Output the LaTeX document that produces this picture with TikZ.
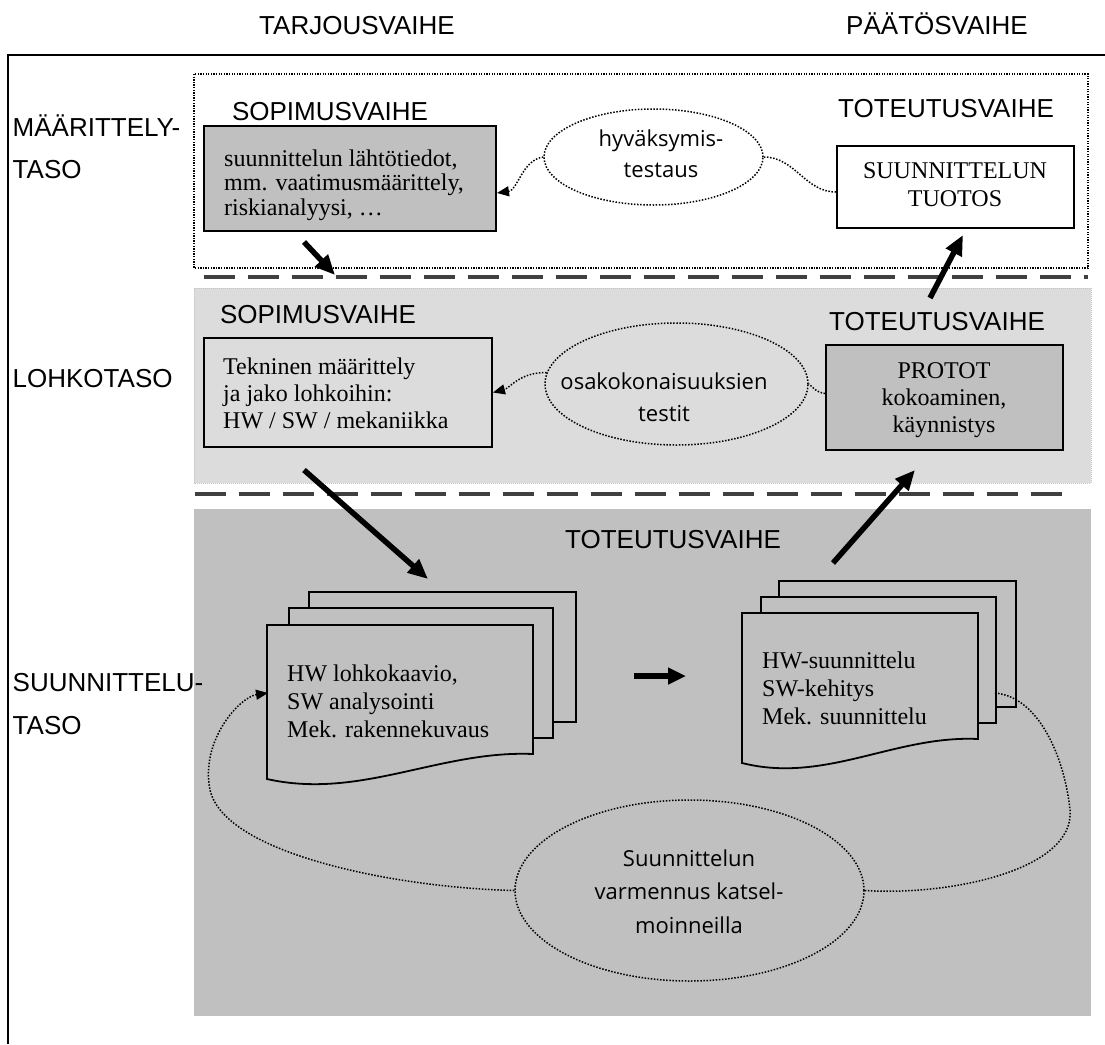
\documentclass[tikz,border=0pt]{standalone}
\usepackage{fontspec}
\setmainfont{Liberation Serif}
\newfontfamily\labelfont{Liberation Sans}
\newfontfamily\notefont{Open Sans}
\usetikzlibrary{arrows.meta,shapes.geometric,calc}
\definecolor{panelLight}{HTML}{DCDCDC}
\definecolor{panelDark}{HTML}{C0C0C0}
\definecolor{dashGray}{HTML}{404040}
\definecolor{edgeFaint}{HTML}{C4C4C4}

\begin{document}
\begin{tikzpicture}[x=1pt,y=-1pt,
  caption/.style={font=\labelfont\fontsize{26}{30}\selectfont, inner sep=0pt},
  serif/.style={font=\fontsize{24}{#1}\selectfont, inner sep=0pt},
  note/.style={font=\notefont\fontsize{22}{#1}\selectfont, inner sep=0pt, align=center, anchor=north},
  panelbox/.style={draw=black, line width=2pt, inner sep=0pt},
  bubble/.style={ellipse, draw=black, line width=1.5pt, dash pattern=on 1.5pt off 1.6pt, inner sep=0pt},
  dotlink/.style={line width=1.5pt, dash pattern=on 1.5pt off 1.6pt},
  dotarrow/.style={dotlink, -{Triangle[length=12pt,width=10pt]}},
  bigarrow/.style={line width=5.5pt, -{Triangle[length=20pt,width=17pt]}},
  sepline/.style={line width=4pt, draw=dashGray, dash pattern=on 31pt off 13pt},
  sheet/.style={draw=black, line width=1.8pt, fill=panelDark, line join=miter},
]
\useasboundingbox (0,0) rectangle (1105,1044);

% ---------- outer frame (top and left rules) ----------
\draw[line width=2pt] (8,1044) -- (8,55) -- (1105,55);

% ---------- level panels ----------
\draw[line width=1.3pt, dash pattern=on 1.3pt off 1.3pt] (194,74) rectangle (1088,268);
\draw[fill=panelLight, draw=edgeFaint, line width=0.8pt, dash pattern=on 1pt off 1pt] (194,288) rectangle (1091,483);
\fill[panelDark] (194,509) rectangle (1091,1016);

% separators between the levels
\draw[sepline] (204,277) -- (1088,277);
\draw[sepline] (195,494) -- (1063,494);

% ---------- column headings ----------
\node[caption, anchor=base] (hTarjous) at (357,34) {TARJOUSVAIHE};
\node[caption, anchor=base] (hPaatos) at (937,34) {PÄÄTÖSVAIHE};

% ---------- level names ----------
\node[caption, anchor=base west] (lvMaar) at (12.5,136) {MÄÄRITTELY-};
\node[caption, anchor=base west] (lvMaar2) at (12.5,178.5) {TASO};
\node[caption, anchor=base west] (lvLohko) at (12.5,387) {LOHKOTASO};
\node[caption, anchor=base west] (lvSuun) at (12.5,691) {SUUNNITTELU-};
\node[caption, anchor=base west] (lvSuun2) at (12.5,734) {TASO};

% ---------- definition level ----------
\node[caption, anchor=base] (pSop1) at (330,120) {SOPIMUSVAIHE};
\node[caption, anchor=base] (pTot1) at (946,117) {TOTEUTUSVAIHE};

\node[panelbox, fill=panelDark, minimum width=292pt, minimum height=105pt] (b1) at (350,178.5) {};
\node[serif=24.5, align=left, anchor=north west] (b1txt) at (224,148.85)
  {\strut suunnittelun lähtötiedot,\\ \strut mm. vaatimusmäärittely,\\ \strut riskianalyysi, …};

\node[panelbox, fill=white, minimum width=237pt, minimum height=82pt] (t1) at (955.5,187) {};
\node[serif=28, align=center, anchor=north] (t1txt) at (955,158.4)
  {\strut SUUNNITTELUN\\ \strut TUOTOS};

\node[bubble, fill=white, minimum width=219pt, minimum height=96pt] (e1) at (653.5,157) {};
\node[note=31] (e1txt) at (661,124.3) {\strut hyväksymis-\\ \strut testaus};

\draw[dotarrow] (e1.west) .. controls (522,160) and (518,190) .. ($(b1.east)+(0,14.5)$);
\draw[dotlink] ($(t1.west)+(0,5)$) .. controls (805,192) and (795,157) .. (e1.east);

% ---------- block level ----------
\node[caption, anchor=base] (pSop2) at (318,323.6) {SOPIMUSVAIHE};
\node[caption, anchor=base] (pTot2) at (937,330) {TOTEUTUSVAIHE};

\node[panelbox, fill=panelLight, minimum width=288pt, minimum height=109pt] (tb) at (348,392.5) {};
\node[serif=27, align=left, anchor=north west] (tbtxt) at (223,355.1)
  {\strut Tekninen määrittely\\ \strut ja jako lohkoihin:\\ \strut HW / SW / mekaniikka};

\node[panelbox, fill=panelDark, minimum width=237pt, minimum height=105pt] (pb) at (944.5,397.5) {};
\node[serif=27, align=center, anchor=north] (pbtxt) at (944,359.1)
  {\strut PROTOT\\ \strut kokoaminen,\\ \strut käynnistys};

\node[bubble, minimum width=263pt, minimum height=122pt] (e2) at (676.5,384) {};
\node[note=32] (e2txt) at (664,366.6) {\strut osakokonaisuuksien\\ \strut testit};

\draw[dotarrow] (e2.175) .. controls (520,372) and (510,388) .. (tb.east);
\draw[dotlink] ($(pb.west)+(0,-4)$) .. controls (815,392) and (812,386) .. (e2.east);

% ---------- design level ----------
\node[caption, anchor=base] (pTot3) at (673,548.6) {TOTEUTUSVAIHE};

% left stack of sheets
\coordinate (ldA) at (267,625);
\coordinate (ldB) at (533,625);
\coordinate (ldC) at (533,754);
\coordinate (ldD) at (267,779);
\coordinate (ldIn) at (268,693);
\draw[sheet] (309,592) rectangle (576,722);
\draw[sheet] (289,608) rectangle (553,738);
\draw[sheet] (ldA) -- (ldB) -- (ldC) .. controls (440,750) and (360,800) .. (ldD) -- cycle;
\node[serif=28, align=left, anchor=north west] (ldtxt) at (287,661.4)
  {\strut HW lohkokaavio,\\ \strut SW analysointi\\ \strut Mek. rakennekuvaus};

% right stack of sheets
\coordinate (rdA) at (742,613);
\coordinate (rdB) at (978,613);
\coordinate (rdC) at (978,739);
\coordinate (rdD) at (742,763);
\coordinate (rdOut) at (995,693);
\draw[sheet] (779,581) rectangle (1016,707);
\draw[sheet] (761,597) rectangle (996,723);
\draw[sheet] (rdA) -- (rdB) -- (rdC) .. controls (895,735) and (825,784) .. (rdD) -- cycle;
\node[serif=28, align=left, anchor=north west] (rdtxt) at (762,648.4)
  {\strut HW-suunnittelu\\ \strut SW-kehitys\\ \strut Mek. suunnittelu};

% review bubble and its loop
\node[bubble, minimum width=349pt, minimum height=181pt] (e3) at (689.5,890.5) {};
\node[note=33.5] (e3txt) at (689,842.5) {\strut Suunnittelun\\ \strut varmennus katsel-\\ \strut moinneilla};

\draw[dotarrow] (e3.west) .. controls (400,888) and (225,855) .. (210,790)
  .. controls (200,740) and (240,697) .. (ldIn);
\draw[dotlink] (rdOut) .. controls (1040,697) and (1065,760) .. (1070,810)
  .. controls (1075,870) and (950,896) .. (e3.east);

% ---------- flow arrows ----------
\coordinate (a1s) at (304,242);  \coordinate (a1e) at (335,275);
\coordinate (a2s) at (930,298);  \coordinate (a2e) at (963,235);
\coordinate (a3s) at (304,470);  \coordinate (a3e) at (428,579);
\coordinate (a4s) at (833,563);  \coordinate (a4e) at (915,470);
\coordinate (a5s) at (634,676);  \coordinate (a5e) at (686,676);
\draw[bigarrow] (a1s) -- (a1e);
\draw[bigarrow] (a2s) -- (a2e);
\draw[bigarrow] (a3s) -- (a3e);
\draw[bigarrow] (a4s) -- (a4e);
\draw[line width=5.5pt, -{Triangle[length=18pt,width=16pt]}] (a5s) -- (a5e);
\end{tikzpicture}
\end{document}
